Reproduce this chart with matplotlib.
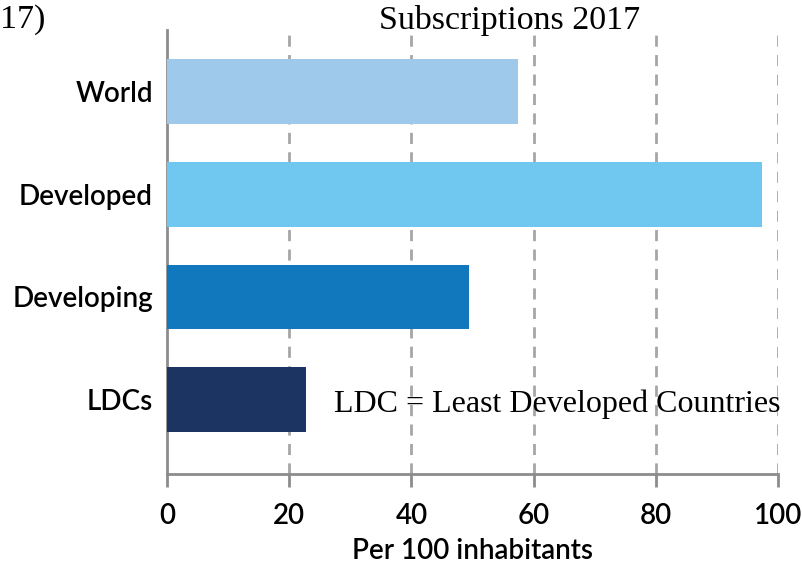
import matplotlib
matplotlib.use("Agg")
import matplotlib.pyplot as plt

# Datos
categories = ["World", "Developed", "Developing", "LDCs"]
values = [57.4, 97.4, 49.4, 22.7]
bar_colors = ["#9fc9eb", "#70c8f0", "#1278be", "#1c3461"]
x_ticks = [0, 20, 40, 60, 80, 100]

fig = plt.figure(figsize=(8.02, 5.67), dpi=100)
ax = fig.add_axes([0.2082, 0.164, 0.762, 0.783])

ypos = list(range(len(categories)))
ax.barh(ypos, values, height=0.63, color=bar_colors, zorder=3)

label_font = dict(fontsize=20, family="Lato", fontweight="semibold")
ax.set_xlim(0, 100)
ax.set_ylim(3.725, -0.6)
ax.set_yticks(ypos)
ax.set_yticklabels(categories, **label_font)
ax.set_xticks(x_ticks)
ax.set_xticklabels([str(t) for t in x_ticks], **label_font)
ax.tick_params(axis="y", length=0, pad=10)
ax.tick_params(axis="x", length=9, width=2, color="#8c8c8c", pad=12)

# Rejilla vertical discontinua
for t in x_ticks[1:]:
    ax.axvline(t, color="#a6a6a6", linestyle=(0, (4, 3)), linewidth=2, zorder=1)

for side in ["top", "right"]:
    ax.spines[side].set_visible(False)
for side in ["left", "bottom"]:
    ax.spines[side].set_color("#8c8c8c")
    ax.spines[side].set_linewidth(2)

ax.set_xlabel("Per 100 inhabitants", labelpad=6, **label_font)

# Textos en serif
fig.text(510 / 802, 1 - 20 / 567, "Subscriptions 2017", ha="center", va="center",
         fontsize=24.5, family="Liberation Serif")
fig.text(0, 1 - 20 / 567, "17)", ha="left", va="center", fontsize=24.5, family="Liberation Serif")
ax.text(27.3, 3.05, "LDC = Least Developed Countries", ha="left", va="center",
        fontsize=23, family="Liberation Serif", zorder=4)

fig.savefig("out.png", dpi=100)
